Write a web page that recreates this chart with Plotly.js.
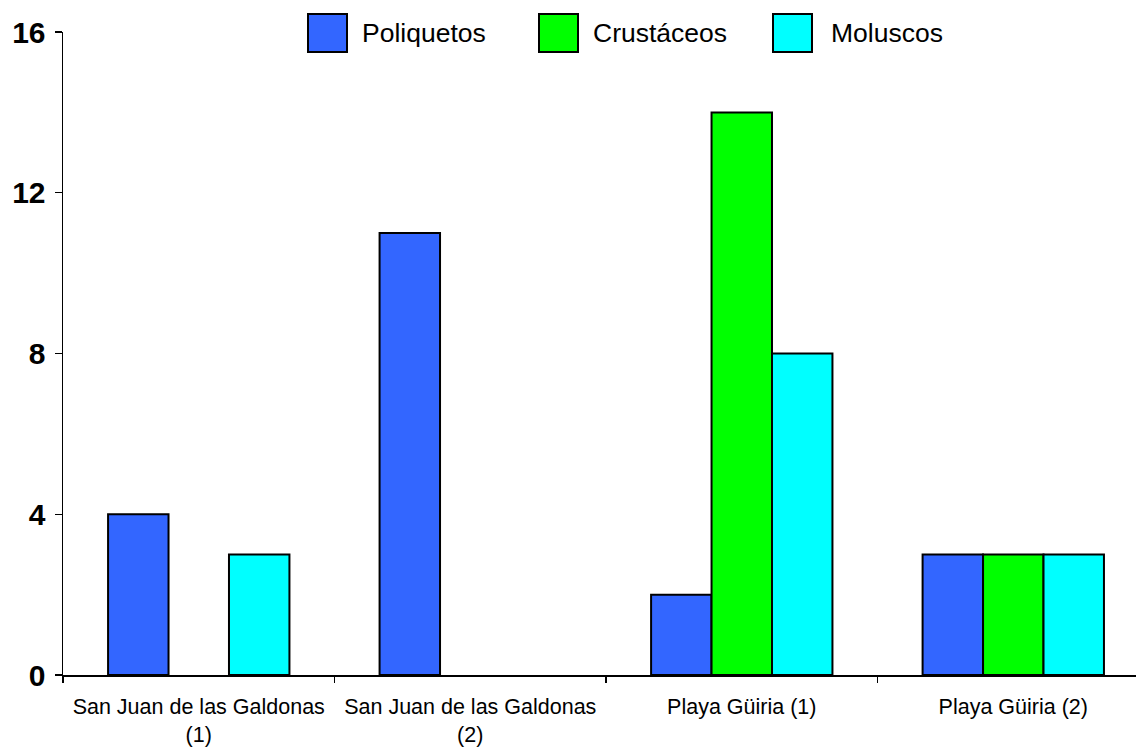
<!DOCTYPE html>
<html>
<head>
<meta charset="utf-8">
<script src="https://cdn.plot.ly/plotly-3.0.1.min.js"></script>
<style>html,body{margin:0;padding:0;background:#fff;}#chart{width:1136px;height:749px;}</style>
</head>
<body>
<div id="chart"></div>
<script>
const categories = ["San Juan de las Galdonas<br>(1)", "San Juan de las Galdonas<br>(2)", "Playa Güiria (1)", "Playa Güiria (2)"];
const seriesNames = ["Poliquetos", "Crustáceos", "Moluscos"];
const poliquetos = [4, 11, 2, 3];
const crustaceos = [0, 0, 14, 3];
const moluscos = [3, 0, 8, 3];
const colors = ["#3366FF", "#00FF00", "#00FFFF"];
const yTicks = [0, 4, 8, 12, 16];

const values = [poliquetos, crustaceos, moluscos];
const FONT = "'Liberation Sans', Arial, sans-serif";

const traces = seriesNames.map((name, i) => ({
  type: "bar",
  name: name,
  x: categories,
  y: values[i],
  marker: {color: colors[i], line: {color: "#000", width: values[i].map(v => v === 0 ? 0 : 2)}},
  showlegend: false,
  hoverinfo: "x+y+name"
}));

// custom legend with large boxes (paper coords)
const legendBoxX = [308, 539, 773];
const legendTextX = [360, 591, 829];
const W = 1136, H = 749, ML = 63, MR = 0, MT = 32, MB = 74;
const pw = W - ML - MR, ph = H - MT - MB;
const px = v => (v - ML) / pw;
const py = v => (H - MB - v) / ph;
const shapes = [], annotations = [];
seriesNames.forEach((name, i) => {
  shapes.push({type: "rect", xref: "paper", yref: "paper",
    x0: px(legendBoxX[i]), x1: px(legendBoxX[i] + 39), y0: py(52), y1: py(14),
    fillcolor: colors[i], line: {color: "#000", width: 2}});
  annotations.push({xref: "paper", yref: "paper", x: px(legendTextX[i]), y: py(33),
    xanchor: "left", yanchor: "middle", text: name, showarrow: false,
    font: {family: FONT, size: 26.5, color: "#000"}});
});

const layout = {
  width: W, height: H,
  margin: {l: ML, r: MR, t: MT, b: MB, pad: 0},
  paper_bgcolor: "#fff", plot_bgcolor: "#fff",
  barmode: "group", bargap: 0.332, bargroupgap: 0,
  font: {family: FONT, color: "#000"},
  xaxis: {
    type: "category", range: [-0.5, 3.452], fixedrange: true,
    showline: true, linecolor: "#000", linewidth: 1.5,
    ticks: "outside", tickson: "boundaries", ticklen: 6, tickwidth: 1.2, tickcolor: "#000",
    ticklabelstandoff: 12,
    showgrid: false, zeroline: false,
    tickfont: {family: FONT, size: 21.5, color: "#000"}
  },
  yaxis: {
    range: [0, 16], tickvals: yTicks, ticktext: yTicks.map(String),
    showline: true, linecolor: "#000", linewidth: 1.5,
    ticks: "outside", ticklen: 7, tickwidth: 1.2, tickcolor: "#000",
    ticklabelstandoff: 3,
    showgrid: false, zeroline: false,
    tickfont: {family: FONT, size: 30, color: "#000", weight: "bold"}
  },
  shapes: shapes,
  annotations: annotations
};

Plotly.newPlot("chart", traces, layout, {displayModeBar: false, staticPlot: true});
</script>
</body>
</html>
